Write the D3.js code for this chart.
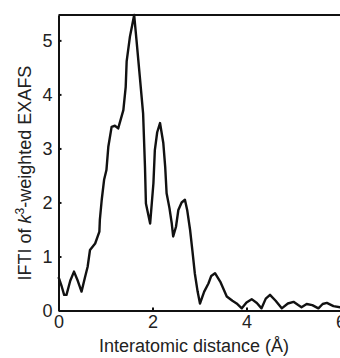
<!DOCTYPE html>
<html>
<head>
<meta charset="utf-8">
<script src="https://cdn.jsdelivr.net/npm/d3@7"></script>
<style>
  body { margin: 0; background: #fff; }
  svg { display: block; font-family: "Liberation Sans", Arial, sans-serif; }
</style>
</head>
<body>
<svg id="chart" width="340" height="358"></svg>
<script>
// Chart values
var distance = [0, 0.07, 0.12, 0.17, 0.25, 0.33, 0.41, 0.49, 0.56, 0.62, 0.67, 0.78, 0.87, 0.88, 0.92, 0.97,
	1.02, 1.06, 1.13, 1.2, 1.27, 1.38, 1.43, 1.45, 1.52, 1.57, 1.61, 1.66, 1.73, 1.80, 1.84, 1.86, 1.95,
	2.02, 2.05, 2.10, 2.16, 2.23, 2.27, 2.30, 2.36, 2.41, 2.44, 2.50, 2.55, 2.62, 2.69, 2.74, 2.80, 2.85,
	2.90, 2.96, 3.01, 3.10, 3.19, 3.25, 3.33, 3.45, 3.58, 3.70, 3.79, 3.90, 4.0, 4.11, 4.22, 4.32, 4.41,
	4.50, 4.62, 4.75, 4.88, 5.0, 5.1, 5.17, 5.28, 5.4, 5.53, 5.62, 5.71, 5.85, 6.0];
var magnitude = [0.62, 0.44, 0.29, 0.29, 0.55, 0.72, 0.55, 0.35, 0.60, 0.81, 1.12, 1.24, 1.46, 1.68, 2.05, 2.42,
	2.6, 3.03, 3.40, 3.42, 3.37, 3.71, 4.14, 4.61, 5.07, 5.29, 5.47, 5.0, 4.33, 3.65, 2.66, 1.98, 1.61,
	2.36, 2.97, 3.3, 3.47, 3.10, 2.66, 2.17, 1.9, 1.61, 1.37, 1.55, 1.86, 2.0, 2.05, 1.85, 1.49, 1.1,
	0.69, 0.35, 0.13, 0.35, 0.50, 0.64, 0.69, 0.52, 0.26, 0.18, 0.13, 0.04, 0.15, 0.21, 0.14, 0.04, 0.22,
	0.29, 0.18, 0.04, 0.13, 0.16, 0.10, 0.06, 0.12, 0.10, 0.04, 0.12, 0.14, 0.08, 0.06];
var xTicks = [0, 2, 4, 6];
var yTicks = [0, 1, 2, 3, 4, 5];

var chart = {};

chart.draw = () => {
	let svg = d3.select("#chart");

	// Plot area
	let mLeft = 58.5, mRight = 340.5, mTop = 15, mBottom = 310.5;

	let x = d3.scaleLinear().domain([0, 6]).range([mLeft, mRight]);
	let y = d3.scaleLinear().domain([0, 5.47]).range([mBottom, mTop]);

	let data = distance.map((d, i) => ({ x: d, y: magnitude[i] }));

	// Curve
	let line = d3.line()
		.x(d => x(d.x))
		.y(d => y(d.y));

	svg.append("path")
		.datum(data)
		.attr("d", line)
		.attr("fill", "none")
		.attr("stroke", "#111")
		.attr("stroke-width", 2.4)
		.attr("stroke-linejoin", "round");

	// Axes (inward ticks)
	let xAxis = svg.append("g")
		.attr("transform", "translate(0," + mBottom + ")")
		.call(d3.axisBottom(x).tickValues(xTicks).tickFormat(d3.format("d"))
			.tickSizeInner(-3).tickSizeOuter(0).tickPadding(5));

	let yAxis = svg.append("g")
		.attr("transform", "translate(" + mLeft + ",0)")
		.call(d3.axisLeft(y).tickValues(yTicks).tickFormat(d3.format("d"))
			.tickSizeInner(-3).tickSizeOuter(0).tickPadding(6));

	[xAxis, yAxis].forEach(g => {
		g.select(".domain").attr("stroke", "#111").attr("stroke-width", 2);
		g.selectAll(".tick line").attr("stroke", "#111").attr("stroke-width", 2);
		g.selectAll(".tick text")
			.attr("fill", "#222")
			.style("font-family", "Liberation Sans, Arial, sans-serif")
			.style("font-size", "18px");
	});

	// Top frame line
	svg.append("line")
		.attr("x1", mLeft)
		.attr("x2", 340)
		.attr("y1", mTop)
		.attr("y2", mTop)
		.attr("stroke", "#111")
		.attr("stroke-width", 2.2);

	// Axis titles
	svg.append("text")
		.attr("x", 194)
		.attr("y", 352)
		.attr("text-anchor", "middle")
		.attr("fill", "#222")
		.style("font-size", "18px")
		.text("Interatomic distance (Å)");

	let yTitle = svg.append("text")
		.attr("transform", "translate(31,173) rotate(-90)")
		.attr("text-anchor", "middle")
		.attr("fill", "#222")
		.style("font-size", "18px");
	yTitle.append("tspan").text("IFTI of ");
	yTitle.append("tspan").style("font-style", "italic").text("k");
	yTitle.append("tspan").attr("dy", -7).style("font-size", "12px").text("3");
	yTitle.append("tspan").attr("dy", 7).text("-weighted EXAFS");
}

chart.draw();
</script>
</body>
</html>
